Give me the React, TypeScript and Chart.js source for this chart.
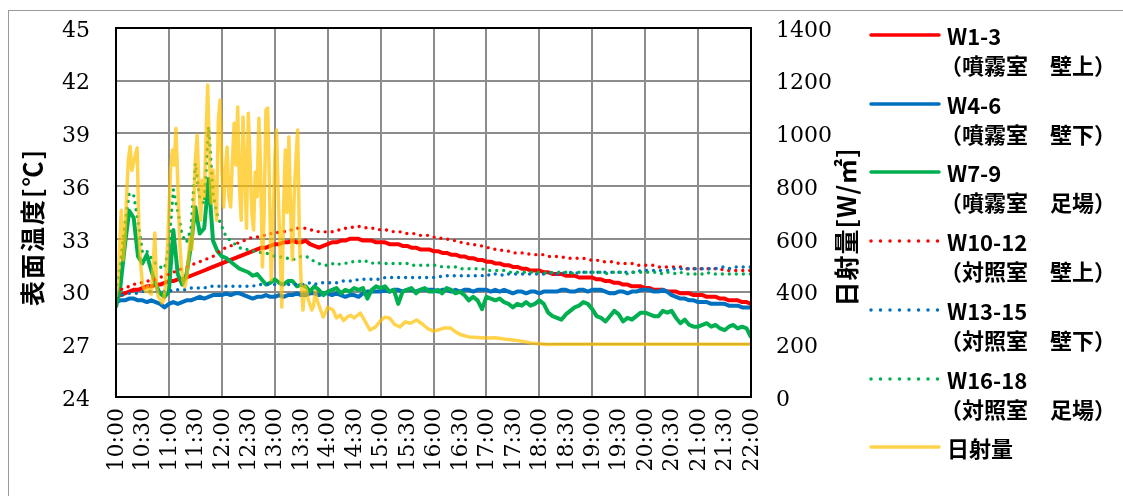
import React, { useEffect, useRef } from 'react';
import { Chart, registerables } from 'chart.js';

Chart.register(...registerables);

// ---------- data ----------
const timeLabels = [
  '10:00', '10:30', '11:00', '11:30', '12:00', '12:30', '13:00', '13:30', '14:00', '14:30',
  '15:00', '15:30', '16:00', '16:30', '17:00', '17:30', '18:00', '18:30', '19:00', '19:30',
  '20:00', '20:30', '21:00', '21:30', '22:00',
];

// sample times of the temperature series, minutes after 10:00 (every 5 min)
const tempTimes = Array.from({ length: 145 }, (_, i) => i * 5);

const w1_3 = [
  29.7, 29.8, 29.9, 30.0, 30.1, 30.1, 30.2, 30.3, 30.3, 30.4, 30.4, 30.5,
  30.6, 30.6, 30.7, 30.7, 30.8, 30.9, 31.0, 31.1, 31.2, 31.3, 31.4, 31.5,
  31.6, 31.7, 31.8, 31.9, 32.0, 32.1, 32.2, 32.3, 32.4, 32.5, 32.5, 32.6,
  32.7, 32.7, 32.8, 32.8, 32.9, 32.8, 32.8, 32.9, 32.7, 32.6, 32.5, 32.6,
  32.7, 32.8, 32.8, 32.9, 32.9, 33.0, 33.0, 33.0, 32.9, 32.9, 32.9, 32.8,
  32.8, 32.8, 32.7, 32.7, 32.7, 32.6, 32.6, 32.5, 32.5, 32.4, 32.4, 32.4,
  32.3, 32.3, 32.2, 32.2, 32.1, 32.1, 32.0, 32.0, 31.9, 31.9, 31.8, 31.8,
  31.7, 31.7, 31.6, 31.6, 31.5, 31.5, 31.4, 31.4, 31.3, 31.3, 31.2, 31.2,
  31.2, 31.1, 31.1, 31.0, 31.0, 31.0, 30.9, 30.9, 30.9, 30.8, 30.8, 30.8,
  30.8, 30.7, 30.7, 30.6, 30.6, 30.5, 30.5, 30.4, 30.4, 30.3, 30.3, 30.3,
  30.2, 30.2, 30.1, 30.1, 30.1, 30.0, 30.0, 30.0, 29.9, 29.9, 29.9, 29.8,
  29.8, 29.8, 29.7, 29.7, 29.7, 29.6, 29.6, 29.5, 29.5, 29.5, 29.4, 29.4,
  29.3,
];

const w4_6 = [
  29.4, 29.5, 29.5, 29.6, 29.6, 29.5, 29.5, 29.4, 29.5, 29.4, 29.3, 29.1,
  29.3, 29.4, 29.3, 29.4, 29.5, 29.5, 29.6, 29.7, 29.6, 29.7, 29.8, 29.8,
  29.8, 29.9, 29.8, 29.9, 29.9, 29.8, 29.7, 29.6, 29.7, 29.7, 29.8, 29.7,
  29.7, 29.8, 29.7, 29.8, 29.8, 29.9, 29.8, 29.8, 29.9, 29.9, 29.8, 29.9,
  29.9, 29.8, 29.9, 29.8, 29.7, 29.8, 29.8, 29.7, 29.9, 30.0, 30.0, 30.0,
  30.0, 30.1, 30.0, 30.1, 30.1, 30.0, 30.1, 30.1, 30.0, 30.1, 30.1, 30.1,
  30.1, 30.0, 30.1, 30.1, 30.0, 30.1, 30.0, 30.1, 30.1, 30.0, 30.1, 30.1,
  30.1, 30.0, 30.1, 30.0, 30.1, 30.0, 29.9, 30.0, 30.0, 29.9, 30.0, 30.0,
  29.9, 30.0, 30.0, 30.0, 30.0, 30.1, 30.1, 30.0, 30.0, 30.1, 30.1, 30.0,
  30.1, 30.1, 30.1, 30.0, 29.9, 29.9, 30.0, 30.0, 29.9, 30.0, 30.0, 30.1,
  30.1, 30.1, 30.0, 30.0, 30.1, 30.0, 29.8, 29.7, 29.6, 29.6, 29.5, 29.5,
  29.4, 29.4, 29.4, 29.3, 29.3, 29.3, 29.3, 29.2, 29.2, 29.2, 29.1, 29.1,
  29.1,
];

const w7_9 = [
  29.1, 30.3, 32.6, 34.6, 34.2, 32.0, 31.6, 32.1, 31.2, 30.4, 29.9, 29.7,
  30.0, 33.5, 31.0, 30.4, 31.0, 32.6, 34.8, 33.3, 33.6, 36.4, 32.9, 32.3,
  32.0, 31.9, 31.7, 31.5, 31.3, 31.2, 31.1, 30.9, 31.0, 30.7, 30.4, 30.5,
  30.7, 30.5, 30.4, 30.6, 30.6, 30.3, 30.4, 30.3, 30.0, 30.3, 30.1, 29.8,
  30.0, 30.1, 30.2, 29.9, 30.1, 30.0, 30.2, 30.1, 30.2, 29.6, 30.1, 30.3,
  30.2, 30.3, 30.0, 30.1, 29.3, 30.0, 30.1, 30.2, 29.9, 30.1, 30.2, 30.0,
  30.0, 30.1, 29.9, 30.2, 30.1, 29.9, 30.0, 29.8, 29.5, 29.7, 29.5, 29.0,
  29.7, 29.6, 29.5, 29.6, 29.4, 29.3, 29.1, 29.3, 29.2, 29.4, 29.2, 29.3,
  29.5, 29.3, 28.8, 28.6, 28.5, 28.4, 28.7, 28.9, 29.1, 29.2, 29.4, 29.3,
  29.0, 28.6, 28.5, 28.3, 28.6, 28.9, 28.7, 28.3, 28.5, 28.4, 28.6, 28.8,
  28.8, 28.7, 28.6, 28.6, 28.9, 28.8, 28.9, 28.5, 28.2, 28.4, 28.1, 28.0,
  28.0, 28.1, 28.2, 28.0, 28.1, 27.9, 27.8, 28.0, 28.1, 27.9, 28.0, 27.9,
  27.4,
];

const w10_12 = [
  29.9, 30.1, 30.2, 30.3, 30.4, 30.5, 30.5, 30.6, 30.6, 30.7, 30.8, 30.9,
  31.0, 31.1, 31.2, 31.3, 31.4, 31.5, 31.6, 31.7, 31.8, 31.9, 32.0, 32.2,
  32.4, 32.5, 32.6, 32.7, 32.8, 32.9, 33.0, 33.1, 33.1, 33.2, 33.2, 33.3,
  33.3, 33.4, 33.4, 33.5, 33.5, 33.6, 33.6, 33.6, 33.5, 33.5, 33.4, 33.4,
  33.4, 33.4, 33.5, 33.5, 33.6, 33.6, 33.7, 33.7, 33.7, 33.6, 33.6, 33.6,
  33.5, 33.5, 33.5, 33.4, 33.4, 33.4, 33.3, 33.3, 33.3, 33.2, 33.2, 33.2,
  33.1, 33.1, 33.0, 33.0, 32.9, 32.9, 32.8, 32.8, 32.7, 32.7, 32.6, 32.6,
  32.5, 32.5, 32.4, 32.4, 32.3, 32.3, 32.2, 32.2, 32.2, 32.2, 32.1, 32.1,
  32.1, 32.1, 32.0, 32.0, 32.0, 32.0, 31.9, 31.9, 31.9, 31.9, 31.9, 31.8,
  31.8, 31.8, 31.7, 31.7, 31.7, 31.7, 31.6, 31.6, 31.6, 31.6, 31.5, 31.5,
  31.5, 31.5, 31.5, 31.4, 31.4, 31.4, 31.4, 31.4, 31.4, 31.3, 31.3, 31.3,
  31.3, 31.3, 31.3, 31.3, 31.3, 31.3, 31.2, 31.2, 31.2, 31.2, 31.2, 31.2,
  31.2,
];

const w13_15 = [
  29.7, 29.8, 29.8, 29.9, 29.9, 29.9, 30.0, 30.0, 30.0, 30.0, 30.0, 30.0,
  30.0, 30.1, 30.1, 30.1, 30.1, 30.2, 30.2, 30.2, 30.2, 30.3, 30.3, 30.3,
  30.3, 30.3, 30.3, 30.3, 30.3, 30.3, 30.3, 30.3, 30.4, 30.4, 30.4, 30.4,
  30.4, 30.4, 30.4, 30.4, 30.4, 30.4, 30.4, 30.4, 30.5, 30.4, 30.5, 30.5,
  30.5, 30.5, 30.5, 30.6, 30.6, 30.6, 30.6, 30.7, 30.7, 30.7, 30.7, 30.7,
  30.7, 30.8, 30.8, 30.8, 30.8, 30.8, 30.8, 30.8, 30.8, 30.8, 30.8, 30.8,
  30.8, 30.8, 30.9, 30.9, 30.9, 30.9, 30.9, 30.9, 30.9, 30.9, 30.9, 30.9,
  31.0, 30.9, 31.0, 31.0, 30.9, 31.0, 31.0, 31.0, 31.0, 31.0, 31.0, 31.0,
  31.0, 31.0, 31.0, 31.1, 31.0, 31.0, 31.1, 31.1, 31.0, 31.1, 31.1, 31.1,
  31.1, 31.1, 31.1, 31.1, 31.1, 31.1, 31.1, 31.1, 31.1, 31.1, 31.1, 31.2,
  31.2, 31.2, 31.2, 31.2, 31.2, 31.2, 31.3, 31.3, 31.3, 31.3, 31.3, 31.3,
  31.3, 31.3, 31.3, 31.3, 31.3, 31.4, 31.4, 31.3, 31.4, 31.4, 31.4, 31.4,
  31.4,
];

const w16_18 = [
  30.0, 31.6, 33.8, 35.6, 35.5, 34.0, 32.2, 32.3, 31.9, 31.6, 31.4, 31.3,
  32.6, 35.8, 34.6, 33.2, 32.8, 33.6, 37.3, 35.3, 35.0, 39.4, 35.6, 34.3,
  33.7, 33.1, 32.9, 32.7, 32.5, 32.4, 32.4, 32.3, 32.3, 32.2, 32.2, 32.1,
  32.0, 32.0, 31.9, 31.9, 31.8, 31.9, 32.0, 32.0, 31.9, 31.7, 31.6, 31.5,
  31.5, 31.6, 31.5, 31.6, 31.6, 31.7, 31.7, 31.7, 31.8, 31.7, 31.6, 31.7,
  31.6, 31.6, 31.6, 31.6, 31.6, 31.6, 31.6, 31.5, 31.5, 31.5, 31.5, 31.5,
  31.5, 31.5, 31.4, 31.4, 31.4, 31.4, 31.3, 31.3, 31.3, 31.3, 31.3, 31.3,
  31.2, 31.2, 31.2, 31.2, 31.2, 31.1, 31.1, 31.1, 31.1, 31.1, 31.1, 31.1,
  31.1, 31.1, 31.0, 31.1, 31.1, 31.1, 31.1, 31.0, 31.1, 31.1, 31.1, 31.1,
  31.1, 31.1, 31.1, 31.0, 31.1, 31.1, 31.1, 31.1, 31.0, 31.1, 31.1, 31.1,
  31.1, 31.1, 31.1, 31.1, 31.0, 31.1, 31.1, 31.0, 31.1, 31.0, 31.0, 31.0,
  31.0, 31.0, 31.1, 31.0, 31.0, 31.0, 31.0, 31.0, 31.0, 31.0, 31.0, 31.0,
  31.0,
];

// solar radiation: every 2 min until 13:40, then sparser
const solarTimes = [
  ...Array.from({ length: 111 }, (_, i) => i * 2),
  222, 224, 226, 228, 232, 235, 240, 246, 250, 254, 258, 262, 266, 270, 277, 282,
  288, 294, 300, 305, 310, 316, 322, 328, 334, 341, 348, 354, 360, 366, 372, 379,
  386, 392, 400, 410, 420, 430, 440, 450, 460, 470, 480, 490, 500, 540, 600, 660, 720,
];
const solar = [
  380, 420, 560, 709, 520, 600, 760, 900, 950, 860,
  888, 920, 945, 620, 500, 430, 410, 400, 420, 395,
  390, 480, 622, 420, 380, 370, 357, 365, 420, 546,
  700, 870, 937, 880, 1020, 820, 600, 500, 440, 418,
  450, 520, 607, 560, 700, 899, 994, 800, 671, 823,
  760, 980, 1184, 900, 736, 861, 760, 671, 1050, 1127,
  873, 720, 860, 948, 760, 721, 900, 1039, 880, 1100,
  797, 671, 1062, 860, 640, 1077, 899, 700, 634, 854,
  760, 1058, 860, 493, 700, 1089, 1096, 800, 444, 622,
  899, 1013, 760, 560, 341, 721, 937, 700, 986, 700,
  520, 760, 900, 1013, 596, 432, 330, 420, 406, 370,
  350,
  330, 345, 400, 368, 330, 303, 340, 330, 300, 311, 290, 303, 310, 300, 318, 290,
  254, 265, 290, 303, 300, 275, 266, 285, 280, 292, 275, 258, 250, 255, 262, 262,
  245, 235, 228, 226, 224, 225, 220, 216, 212, 205, 202, 199, 200, 200, 200, 200, 200,
];

const RED = '#FF0000';
const BLUE = '#0070C0';
const GREEN = '#00B050';
const YELLOW = 'rgba(255,192,0,0.7)';
const GRID = '#8c8c8c';

const legendItems = [
  { name: 'W1-3', sub: '（噴霧室　壁上）', color: RED, dotted: false },
  { name: 'W4-6', sub: '（噴霧室　壁下）', color: BLUE, dotted: false },
  { name: 'W7-9', sub: '（噴霧室　足場）', color: GREEN, dotted: false },
  { name: 'W10-12', sub: '（対照室　壁上）', color: RED, dotted: true },
  { name: 'W13-15', sub: '（対照室　壁下）', color: BLUE, dotted: true },
  { name: 'W16-18', sub: '（対照室　足場）', color: GREEN, dotted: true },
  { name: '日射量', sub: '', color: YELLOW, dotted: false },
];

const leftTitle = '表面温度[℃]';
const rightTitle = '日射量[W/㎡]';

const CJK = "'Noto Sans CJK JP', 'Noto Sans', sans-serif";
const SERIF = "'DejaVu Serif', serif";

function pts(times: number[], vals: number[]) {
  return vals.map((v, i) => ({ x: times[i], y: v }));
}

const framePlugin = {
  id: 'frameAndTitles',
  afterDatasetsDraw(chart: any) {
    const { ctx, chartArea: a } = chart;
    ctx.save();
    ctx.strokeStyle = '#000';
    ctx.lineWidth = 2;
    ctx.strokeRect(a.left, a.top, a.right - a.left, a.bottom - a.top);
    ctx.restore();
  },
  afterDraw(chart: any) {
    const ctx = chart.ctx;
    const draw = (text: string, x: number, y: number, spacing: string) => {
      ctx.save();
      ctx.translate(x, y);
      ctx.rotate(-Math.PI / 2);
      ctx.font = `bold 25px ${CJK}`;
      try { (ctx as any).letterSpacing = spacing; } catch (e) { /* ignore */ }
      ctx.fillStyle = '#000';
      ctx.textAlign = 'center';
      ctx.textBaseline = 'middle';
      ctx.fillText(text, 0, 0);
      ctx.restore();
    };
    draw(leftTitle, 32, 227, '2px');
    draw(rightTitle, 846, 227, '1px');
  },
};

const noPadV = (w: number) => (s: any) => {
  s.width = w;
  s.paddingTop = 0;
  s.paddingBottom = 0;
};

function ChartCanvas() {
  const ref = useRef<HTMLCanvasElement | null>(null);
  useEffect(() => {
    if (!ref.current) return;
    const dotted = { borderDash: [0, 7], borderCapStyle: 'round' as const };
    const chart = new Chart(ref.current, {
      type: 'line',
      data: {
        datasets: [
          { label: '日射量', data: pts(solarTimes, solar), borderColor: YELLOW, borderWidth: 3.5, yAxisID: 'y1', order: 1 },
          { label: 'W16-18', data: pts(tempTimes, w16_18), borderColor: GREEN, borderWidth: 3.4, yAxisID: 'y', order: 2, ...dotted },
          { label: 'W13-15', data: pts(tempTimes, w13_15), borderColor: BLUE, borderWidth: 3.4, yAxisID: 'y', order: 3, ...dotted },
          { label: 'W10-12', data: pts(tempTimes, w10_12), borderColor: RED, borderWidth: 3.4, yAxisID: 'y', order: 4, ...dotted },
          { label: 'W7-9', data: pts(tempTimes, w7_9), borderColor: GREEN, borderWidth: 4, yAxisID: 'y', order: 5 },
          { label: 'W4-6', data: pts(tempTimes, w4_6), borderColor: BLUE, borderWidth: 4, yAxisID: 'y', order: 6 },
          { label: 'W1-3', data: pts(tempTimes, w1_3), borderColor: RED, borderWidth: 4, yAxisID: 'y', order: 7 },
        ] as any,
      },
      options: {
        responsive: false,
        animation: false,
        devicePixelRatio: 1,
        events: [],
        layout: { padding: { top: 28, left: 0, right: 0, bottom: 0 } },
        elements: { point: { radius: 0 }, line: { tension: 0, borderJoinStyle: 'round' } },
        plugins: { legend: { display: false }, tooltip: { enabled: false }, title: { display: false } },
        scales: {
          x: {
            type: 'linear',
            min: 0,
            max: 720,
            afterFit: (s: any) => { s.height = 99; s.paddingLeft = 0; s.paddingRight = 0; },
            ticks: {
              stepSize: 30,
              autoSkip: false,
              minRotation: 90,
              maxRotation: 90,
              padding: 11,
              labelOffset: 1,
              color: '#000',
              font: { family: SERIF, size: 22 },
              callback: (v: any) => timeLabels[Math.round(Number(v) / 30)] ?? '',
            },
            grid: {
              color: (c: any) => (c.tick && c.tick.value % 60 === 0 ? GRID : 'rgba(0,0,0,0)'),
              lineWidth: 2,
              drawTicks: false,
            },
            border: { display: false },
          },
          y: {
            position: 'left',
            min: 24,
            max: 45,
            afterFit: noPadV(116),
            ticks: {
              stepSize: 3,
              padding: 26,
              labelOffset: 3,
              color: '#000',
              font: { family: SERIF, size: 22 },
              callback: (v: any) => String(v),
            },
            grid: { color: GRID, lineWidth: 2, drawTicks: false },
            border: { display: false },
          },
          y1: {
            position: 'right',
            min: 0,
            max: 1400,
            afterFit: noPadV(119),
            ticks: {
              stepSize: 200,
              padding: 25,
              labelOffset: 3,
              color: '#000',
              font: { family: SERIF, size: 22 },
              callback: (v: any) => String(v),
            },
            grid: { drawOnChartArea: false, drawTicks: false },
            border: { display: false },
          },
        },
      } as any,
      plugins: [framePlugin],
    });
    return () => chart.destroy();
  }, []);
  return (
    <canvas
      ref={ref}
      width={870}
      height={496}
      style={{ position: 'absolute', left: 0, top: 0, width: 870, height: 496, display: 'block' }}
    />
  );
}

function Legend() {
  return (
    <>
      {legendItems.map((it, i) => {
        const lineY = 35 + i * 68.7;
        return (
          <React.Fragment key={it.name}>
            <svg
              width={76}
              height={8}
              style={{ position: 'absolute', left: 868, top: lineY - 4 }}
            >
              <line
                x1={3}
                y1={4}
                x2={it.dotted ? 72 : 71}
                y2={4}
                stroke={it.color}
                strokeWidth={3.5}
                strokeLinecap="round"
                strokeDasharray={it.dotted ? '0 9.5' : undefined}
              />
            </svg>
            <div
              style={{
                position: 'absolute', left: 947, top: lineY - 15, height: 30, lineHeight: '30px',
                fontFamily: CJK, fontWeight: 'bold', fontSize: 22, color: '#000', whiteSpace: 'nowrap',
              }}
            >
              {it.name}
            </div>
            {it.sub && (
              <div
                style={{
                  position: 'absolute', left: 940, top: lineY + 29 - 15, height: 30, lineHeight: '30px',
                  fontFamily: CJK, fontWeight: 'bold', fontSize: 22, color: '#000', whiteSpace: 'nowrap',
                }}
              >
                {it.sub}
              </div>
            )}
          </React.Fragment>
        );
      })}
    </>
  );
}

export default function App() {
  return (
    <div
      style={{
        position: 'absolute', left: 0, top: 0, width: 1123, height: 496,
        overflow: 'hidden', background: '#fff',
      }}
    >
      <div
        style={{
          position: 'absolute', left: 8, top: 10, width: 1300, height: 700,
          border: '1px solid #9a9a9a', boxSizing: 'border-box',
        }}
      />
      <ChartCanvas />
      <Legend />
    </div>
  );
}
